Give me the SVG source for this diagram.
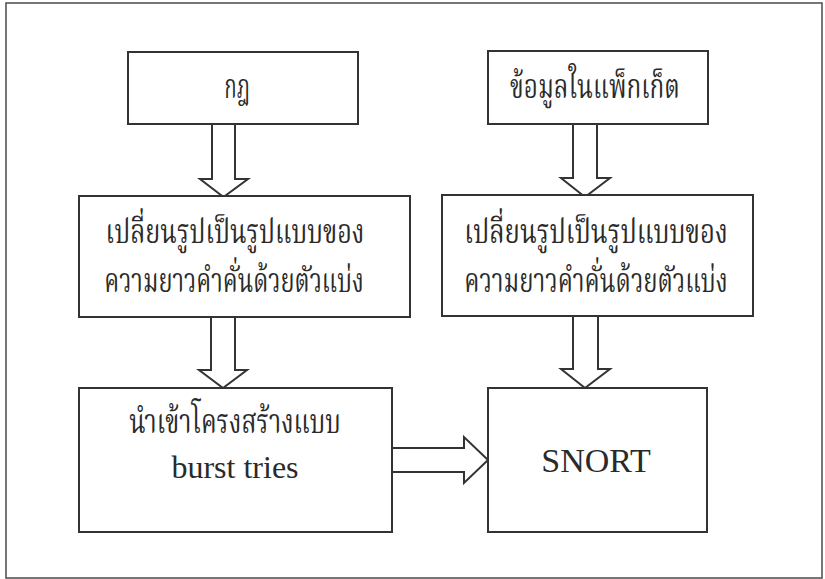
<svg xmlns="http://www.w3.org/2000/svg" width="825" height="579" viewBox="0 0 825 579">
  <style>
    .frame { fill: none; stroke: #555; stroke-width: 1.6; }
    .box { fill: #fff; stroke: #333; stroke-width: 2; }
    .arrow { fill: #fff; stroke: #333; stroke-width: 2; stroke-linejoin: miter; }
    .lbl { font-family: "Liberation Serif", "Noto Serif Thai", serif; font-size: 32px; fill: #2a2a2a; text-anchor: middle; }
    .th { font-family: "Noto Serif Thai", "Noto Sans Thai", "Noto Sans", sans-serif; font-size: 33px; fill: #2a2a2a; text-anchor: middle; }
  </style>
  <rect x="0" y="0" width="825" height="579" fill="#fff"/>
  <rect class="frame" x="6" y="3" width="816" height="575"/>

  <g id="connectors">
    <!-- rule -> convert -->
    <path class="arrow" d="M212,124 V179 H200 L223.5,197 L248,179 H235 V124"/>
    <!-- convert -> burst tries -->
    <path class="arrow" d="M211,317 V370 H199 L223,388 L247,370 H235 V317"/>
    <!-- packet data -> convert -->
    <path class="arrow" d="M573,124 V178 H561 L585,197 L610,178 H597 V124"/>
    <!-- convert -> SNORT -->
    <path class="arrow" d="M573,316 V369 H561 L585,388 L610,369 H598 V316"/>
    <!-- burst tries -> SNORT -->
    <path class="arrow" d="M392,448 H464 V437 L488,460 L464,483 V472 H392"/>
  </g>

  <!-- Thai labels use a condensed horizontal scale -->
  <g id="rule">
    <rect class="box" x="128" y="52" width="230" height="72"/>
    <text class="th" transform="translate(237,98) scale(0.62,1)">กฎ</text>
  </g>

  <g id="packet-data">
    <rect class="box" x="488" y="51" width="220" height="73"/>
    <text class="th" transform="translate(595,98) scale(0.736,1)">ข้อมูลในแพ็กเก็ต</text>
  </g>

  <g id="convert-rule">
    <rect class="box" x="79" y="196" width="331" height="121"/>
    <text class="th" transform="translate(235,243) scale(0.763,1)">เปลี่ยนรูปเป็นรูปแบบของ</text>
    <text class="th" transform="translate(234,292) scale(0.715,1)">ความยาวคำคั่นด้วยตัวแบ่ง</text>
  </g>

  <g id="convert-packet">
    <rect class="box" x="442" y="195" width="311" height="121"/>
    <text class="th" transform="translate(596,243) scale(0.777,1)">เปลี่ยนรูปเป็นรูปแบบของ</text>
    <text class="th" transform="translate(596,292) scale(0.726,1)">ความยาวคำคั่นด้วยตัวแบ่ง</text>
  </g>

  <g id="burst-tries">
    <rect class="box" x="79" y="388" width="313" height="144"/>
    <text class="th" transform="translate(235,433) scale(0.753,1)">นำเข้าโครงสร้างแบบ</text>
    <text class="lbl" x="235" y="478">burst tries</text>
  </g>

  <g id="snort">
    <rect class="box" x="488" y="388" width="219" height="144"/>
    <text class="lbl" x="596" y="472" style="font-size:34px">SNORT</text>
  </g>
</svg>
